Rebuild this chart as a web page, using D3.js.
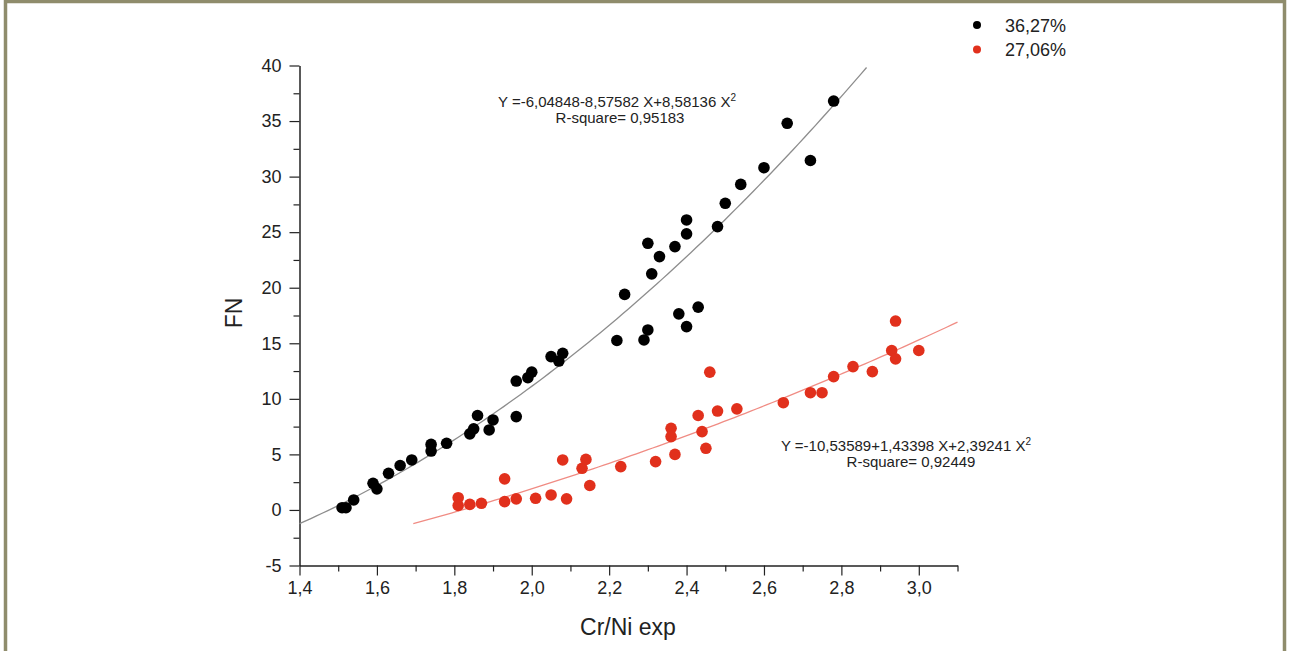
<!DOCTYPE html>
<html>
<head>
<meta charset="utf-8">
<script src="https://d3js.org/d3.v7.min.js"></script>
<style>
  body { margin: 0; background: #fff; }
  text { font-family: "Liberation Sans", Arial, sans-serif; fill: #222; }
</style>
</head>
<body>
<div id="plot_area"></div>
<script>
// data
var blackX = [1.51, 1.52, 1.54, 1.59, 1.60, 1.63, 1.66, 1.69, 1.74, 1.74, 1.78, 1.84, 1.85, 1.86, 1.89, 1.90,
  1.96, 1.96, 1.99, 2.00, 2.05, 2.07, 2.08, 2.22, 2.24, 2.29, 2.30, 2.30, 2.31, 2.33, 2.37, 2.38,
  2.40, 2.40, 2.40, 2.43, 2.48, 2.50, 2.54, 2.60, 2.66, 2.72, 2.78]
var blackY = [0.2, 0.2, 0.9, 2.4, 1.9, 3.3, 4.0, 4.5, 5.9, 5.3, 6.0, 6.85, 7.3, 8.5, 7.2, 8.1,
  8.4, 11.6, 11.9, 12.4, 13.8, 13.4, 14.1, 15.25, 19.4, 15.3, 16.2, 24.0, 21.25, 22.8, 23.7, 17.65,
  16.5, 24.85, 26.1, 18.25, 25.5, 27.6, 29.3, 30.8, 34.8, 31.45, 36.8]

var redX = [1.81, 1.81, 1.84, 1.87, 1.93, 1.93, 1.96, 2.01, 2.05, 2.08, 2.09, 2.13, 2.14, 2.15, 2.23,
  2.32, 2.37, 2.36, 2.36, 2.43, 2.44, 2.45, 2.46, 2.48, 2.53, 2.65, 2.72, 2.75, 2.78, 2.83, 2.88,
  2.93, 2.94, 2.94, 3.00]
var redY = [1.1, 0.4, 0.5, 0.6, 2.8, 0.75, 1.0, 1.05, 1.35, 4.5, 1.0, 3.75, 4.55, 2.2, 3.9,
  4.35, 5.0, 7.35, 6.6, 8.5, 7.05, 5.55, 12.4, 8.9, 9.1, 9.65, 10.55, 10.55, 12.0, 12.9, 12.45,
  14.35, 17.0, 13.6, 14.35]

// fitted polynomials printed on the chart: a + b X + c X^2
var blackFit = [-6.04848, -8.57582, 8.58136]
var redFit = [-10.53589, 1.43398, 2.39241]
var blackFitRange = [1.4, 2.865]
var redFitRange = [1.694, 3.1]

var xTicks = [1.4, 1.6, 1.8, 2.0, 2.2, 2.4, 2.6, 2.8, 3.0]
var yTicks = [-5, 0, 5, 10, 15, 20, 25, 30, 35, 40]
var legendLabels = ["36,27%", "27,06%"]
var colors = ["#000000", "#e1301c"]

var width = 1292, height = 651

var Svg = d3.select('#plot_area')
  .append("svg")
  .attr("width", width)
  .attr("height", height)

// frame round the picture
Svg.append("path")
  .attr("d", "M5.5,700 V1.5 H1284.5 V700")
  .attr("fill", "none")
  .attr("stroke", "#8f8c6c")
  .attr("stroke-width", 3.5)

var x = d3.scaleLinear().domain([1.4, 3.1]).range([299.5, 957.5])
var y = d3.scaleLinear().domain([-5, 40]).range([565.5, 65.5])

var fmt = function(d) { return d3.format(".1f")(d).replace(".", ",") }

// x axis
var xAxis = Svg.append("g")
  .attr("transform", "translate(0," + y(-5) + ")")
  .call(d3.axisBottom(x).tickValues(xTicks).tickSize(10).tickSizeOuter(0).tickPadding(6).tickFormat(fmt))
xAxis.append("g").call(d3.axisBottom(x).tickValues(d3.range(1.5, 3.15, 0.2)).tickSize(6).tickFormat(""))
  .select(".domain").remove()

// y axis (plain hyphen for the minus sign)
var yAxis = Svg.append("g")
  .attr("transform", "translate(" + x(1.4) + ",0)")
  .call(d3.axisLeft(y).tickValues(yTicks).tickSize(10).tickSizeOuter(0).tickPadding(8)
    .tickFormat(function(d) { return String(d) }))
yAxis.append("g").call(d3.axisLeft(y).tickValues(d3.range(-2.5, 40, 5)).tickSize(6).tickFormat(""))
  .select(".domain").remove()

Svg.selectAll(".domain").attr("stroke", "#222").attr("stroke-width", 1.5)
Svg.selectAll(".tick line").attr("stroke", "#222").attr("stroke-width", 1.2)
Svg.selectAll(".tick text")
  .style("font-family", '"Liberation Sans", Arial, sans-serif')
  .style("font-size", "18px")
  .attr("fill", "#222")

// axis titles
Svg.append("text")
  .attr("x", 628).attr("y", 635)
  .attr("text-anchor", "middle")
  .style("font-size", "23px")
  .text("Cr/Ni exp")

Svg.append("text")
  .attr("transform", "translate(242,313) rotate(-90)")
  .attr("text-anchor", "middle")
  .style("font-size", "23px")
  .text("FN")

// fit curves
function poly(c, v) { return c[0] + c[1] * v + c[2] * v * v }
function curvePoints(c, r) {
  return d3.range(0, 101).map(function(i) {
    var v = r[0] + (r[1] - r[0]) * i / 100
    return [v, poly(c, v)]
  })
}
var line = d3.line()
  .x(function(d) { return x(d[0]) })
  .y(function(d) { return y(d[1]) })

Svg.append("path")
  .datum(curvePoints(blackFit, blackFitRange))
  .attr("d", line)
  .attr("fill", "none")
  .attr("stroke", "#8d8d8d")
  .attr("stroke-width", 1.3)

Svg.append("path")
  .datum(curvePoints(redFit, redFitRange))
  .attr("d", line)
  .attr("fill", "none")
  .attr("stroke", "#f08c84")
  .attr("stroke-width", 1.3)

// points
Svg.append("g").selectAll("circle")
  .data(blackX.map(function(v, i) { return [v, blackY[i]] }))
  .enter().append("circle")
  .attr("cx", function(d) { return x(d[0]) })
  .attr("cy", function(d) { return y(d[1]) })
  .attr("r", 5.8)
  .attr("fill", colors[0])

Svg.append("g").selectAll("circle")
  .data(redX.map(function(v, i) { return [v, redY[i]] }))
  .enter().append("circle")
  .attr("cx", function(d) { return x(d[0]) })
  .attr("cy", function(d) { return y(d[1]) })
  .attr("r", 5.8)
  .attr("fill", colors[1])

// equations
function equation(cx, cy, c) {
  var t = Svg.append("text")
    .attr("x", cx).attr("y", cy)
    .attr("text-anchor", "middle")
    .style("font-size", "15px")
  t.append("tspan").text("Y =" + c.map(function(v, i) {
      var s = (v < 0 ? "-" : (i ? "+" : "")) + Math.abs(v).toFixed(5).replace(".", ",")
      return s + (i == 1 ? " X" : i == 2 ? " X" : "")
    }).join(""))
  t.append("tspan").attr("dy", -6).style("font-size", "10px").text("2")
}
equation(617, 107, blackFit)
Svg.append("text").attr("x", 620).attr("y", 123).attr("text-anchor", "middle")
  .style("font-size", "15px").text("R-square= 0,95183")
equation(906, 451, redFit)
Svg.append("text").attr("x", 911).attr("y", 467).attr("text-anchor", "middle")
  .style("font-size", "15px").text("R-square= 0,92449")

// legend
var legend = Svg.append("g")
legendLabels.forEach(function(l, i) {
  legend.append("circle")
    .attr("cx", 977).attr("cy", 25 + i * 24.5)
    .attr("r", 4)
    .attr("fill", colors[i])
  legend.append("text")
    .attr("x", 1005).attr("y", 32 + i * 24)
    .style("font-size", "18px")
    .text(l)
})
</script>
</body>
</html>
